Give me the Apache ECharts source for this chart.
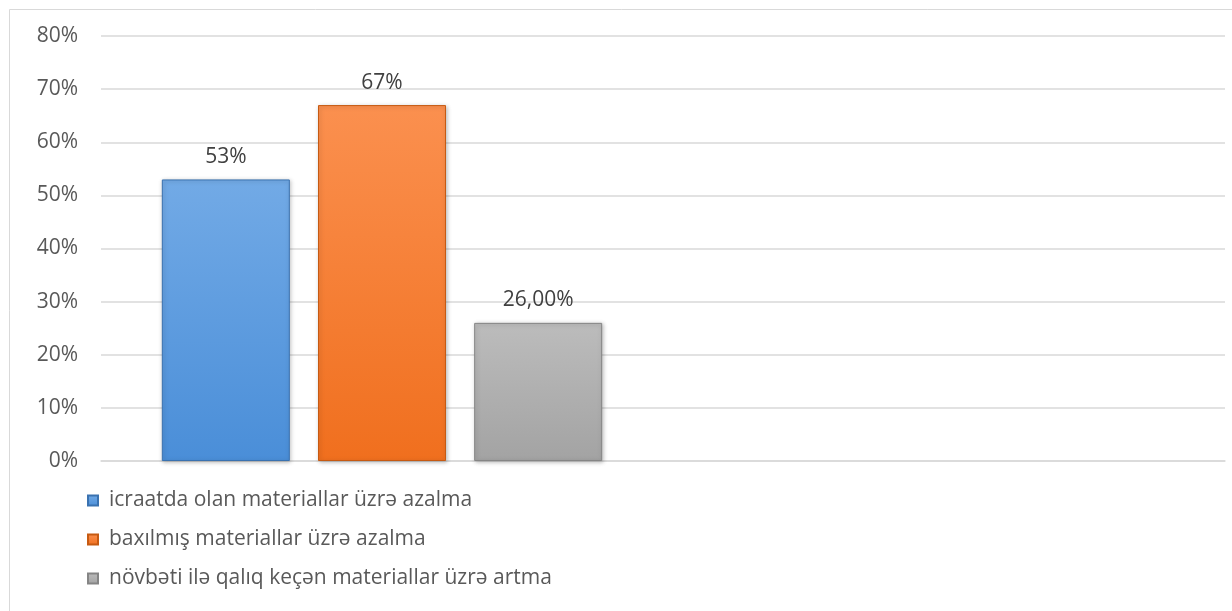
<!DOCTYPE html>
<html>
<head>
<meta charset="utf-8">
<script src="https://cdn.jsdelivr.net/npm/echarts@6/dist/echarts.min.js"></script>
<style>
  html, body { margin: 0; padding: 0; background: #fff; }
  #main { width: 1232px; height: 611px; }
</style>
</head>
<body>
<div id="main"></div>
<script>
// kateqoriyalar (ikinci boş qalır)
const categories = ['', ' ']
const seriesNames = [
  'icraatda olan materiallar üzrə azalma',
  'baxılmış materiallar üzrə azalma',
  'növbəti ilə qalıq keçən materiallar üzrə artma'
]
const blueValues = [0.53, null]
const orangeValues = [0.67, null]
const grayValues = [0.26, null]
const yTicks = [0, 0.1, 0.2, 0.3, 0.4, 0.5, 0.6, 0.7, 0.8]

const chart = echarts.init(document.getElementById('main'))

function grad(top, bottom) {
  return new echarts.graphic.LinearGradient(0, 0, 0, 1, [
    { offset: 0, color: top },
    { offset: 1, color: bottom }
  ])
}

const fills = [
  { top: '#72aae6', bottom: '#4a8ed8', border: '#3a72b0' },
  { top: '#fb904f', bottom: '#f06f1e', border: '#c65a12' },
  { top: '#bcbcbc', bottom: '#a3a3a3', border: '#858585' }
]

const pctLabel = p => Math.round(p.value * 100) + '%'
const decLabel = p => (p.value * 100).toFixed(2).replace('.', ',') + '%'

function makeSeries(name, values, f, fmt) {
  return {
    name: name,
    type: 'bar',
    data: values,
    barWidth: 128,
    barGap: '22%',
    itemStyle: {
      color: grad(f.top, f.bottom),
      borderColor: f.border,
      borderWidth: 1,
      shadowColor: 'rgba(0,0,0,0.25)',
      shadowBlur: 4,
      shadowOffsetX: 1,
      shadowOffsetY: 1
    },
    label: {
      show: true,
      position: 'top',
      distance: 12,
      color: '#404040',
      fontSize: 21,
      fontFamily: 'Open Sans',
      formatter: fmt
    }
  }
}

const option = {
  animation: false,
  backgroundColor: '#fff',
  graphic: [{
    type: 'rect',
    shape: { x: 9.5, y: 9.5, width: 1300, height: 700 },
    style: { fill: 'none', stroke: '#d9d9d9', lineWidth: 1 },
    silent: true
  }],
  grid: { left: 101, right: 7, top: 36, bottom: 150 },
  legend: {
    orient: 'vertical',
    left: 87,
    top: 490,
    padding: 0,
    itemWidth: 10,
    itemHeight: 10,
    itemGap: 18,
    icon: 'rect',
    textStyle: { color: '#595959', fontSize: 21, fontFamily: 'Open Sans', padding: [0, 0, 0, 6] },
    data: seriesNames
  },
  xAxis: {
    type: 'category',
    data: categories,
    axisLine: { lineStyle: { color: '#d9d9d9', width: 1.5 } },
    axisTick: { show: false },
    axisLabel: { show: false }
  },
  yAxis: {
    type: 'value',
    min: yTicks[0],
    max: yTicks[yTicks.length - 1],
    interval: 0.1,
    axisLine: { show: false },
    axisTick: { show: false },
    splitLine: { lineStyle: { color: '#d9d9d9', width: 1.5 } },
    axisLabel: {
      color: '#595959',
      fontSize: 21,
      fontFamily: 'Open Sans',
      margin: 23,
      formatter: v => Math.round(v * 100) + '%'
    }
  },
  series: [
    makeSeries(seriesNames[0], blueValues, fills[0], pctLabel),
    makeSeries(seriesNames[1], orangeValues, fills[1], pctLabel),
    makeSeries(seriesNames[2], grayValues, fills[2], decLabel)
  ]
}

chart.setOption(option)
</script>
</body>
</html>
